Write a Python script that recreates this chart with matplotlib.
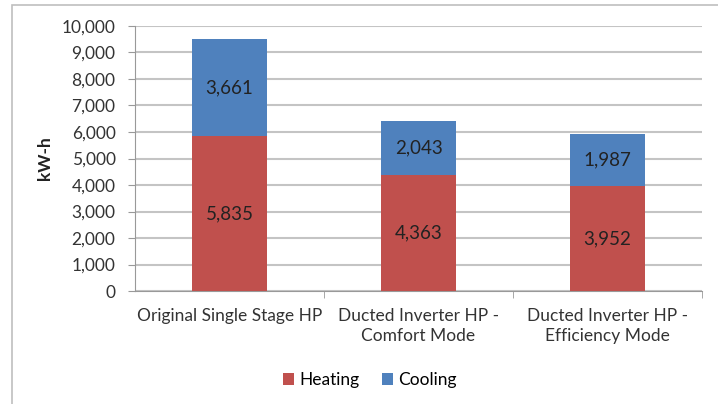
import matplotlib.pyplot as plt
from matplotlib.patches import Rectangle
from matplotlib.ticker import FuncFormatter, MultipleLocator

categories = ["Original Single Stage HP", "Ducted Inverter HP -\nComfort Mode",
              "Ducted Inverter HP -\nEfficiency Mode"]
heating = [5835, 4363, 3952]
cooling = [3661, 2043, 1987]

plt.rcParams['font.family'] = ['Lato', 'DejaVu Sans']

W, H = 718, 404
fig = plt.figure(figsize=(W / 100, H / 100), dpi=100)

# outer chart frame (runs off the right/bottom edge)
fig.patches.append(Rectangle((12 / W, -0.1), 1.2, 1 - 5 / H + 0.1, transform=fig.transFigure,
                             fill=False, edgecolor='#bfbfbf', linewidth=1.2))

ax = fig.add_axes([135 / W, 1 - 291 / H, (702 - 135) / W, (291 - 26) / H])

x = range(len(categories))
ax.bar(x, heating, width=0.4, color='#c0504d', label='Heating', zorder=3)
ax.bar(x, cooling, width=0.4, bottom=heating, color='#4f81bd', label='Cooling', zorder=3)

for i in x:
    ax.text(i, heating[i] / 2, f"{heating[i]:,}", ha='center', va='center',
            fontsize=13.5, color='#222222', zorder=4)
    ax.text(i, heating[i] + cooling[i] / 2, f"{cooling[i]:,}", ha='center', va='center',
            fontsize=13.5, color='#222222', zorder=4)

ax.set_xlim(-0.5, 2.5)
ax.set_ylim(0, 10000)
ax.yaxis.set_major_locator(MultipleLocator(1000))
ax.yaxis.set_major_formatter(FuncFormatter(lambda v, p: f"{int(v):,}"))
ax.grid(axis='y', color='#c4c4c4', linewidth=1.5, zorder=0)

ax.set_xticks(list(x))
ax.set_xticklabels(categories, fontsize=12.5, color='#333333', linespacing=1.35)
ax.set_xticks([0.5, 1.5, 2.5], minor=True)
ax.tick_params(axis='x', which='major', length=0, pad=12)
ax.tick_params(axis='x', which='minor', length=5, color='#999999')
ax.tick_params(axis='y', length=5, color='#999999', labelsize=12.5, labelcolor='#333333', pad=9)

for s in ['top', 'right']:
    ax.spines[s].set_visible(False)
for s in ['left', 'bottom']:
    ax.spines[s].set_color('#999999')

ax.set_ylabel('kW-h', fontsize=12.5, fontweight='bold', color='#222222', labelpad=6)

ax.legend(loc='center', bbox_to_anchor=(370 / W, 1 - 380 / H),
          bbox_transform=fig.transFigure, ncol=2, frameon=False, fontsize=12.5,
          handlelength=0.65, handleheight=0.65, handletextpad=0.3, columnspacing=1.3)

fig.savefig('out.png', dpi=100)
